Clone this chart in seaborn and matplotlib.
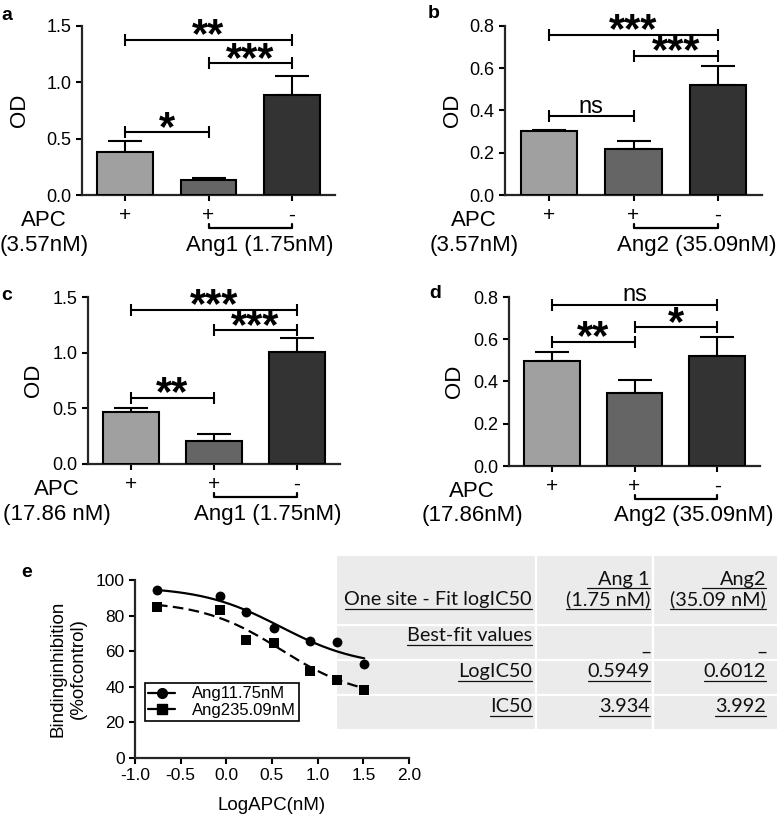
from __future__ import annotations

import matplotlib

matplotlib.use("Agg")

import matplotlib.pyplot as plt
import numpy as np
import pandas as pd
import seaborn as sns
from matplotlib.lines import Line2D
from matplotlib.patches import Rectangle
from matplotlib.transforms import blended_transform_factory


W, H = 777, 821

GROUPS = ["APC", "APC + Ang", "Ang"]
SIGNS = ["+", "+", "-"]
BAR_COLORS = ["#A0A0A0", "#656565", "#333333"]

A_MEAN = [0.38, 0.13, 0.89]
A_ERR = [0.10, 0.025, 0.17]
A_SIG = [(0, 2, 1.38, "**"), (1, 2, 1.17, "***"), (0, 1, 0.556, "*")]

B_MEAN = [0.303, 0.217, 0.52]
B_ERR = [0.005, 0.04, 0.09]
B_SIG = [(0, 2, 0.758, "***"), (1, 2, 0.659, "***"), (0, 1, 0.374, "ns")]

C_MEAN = [0.47, 0.207, 1.01]
C_ERR = [0.035, 0.06, 0.125]
C_SIG = [(0, 2, 1.387, "***"), (1, 2, 1.20, "***"), (0, 1, 0.597, "**")]

D_MEAN = [0.499, 0.344, 0.52]
D_ERR = [0.043, 0.062, 0.093]
D_SIG = [(0, 2, 0.763, "ns"), (1, 2, 0.658, "*"), (0, 1, 0.589, "**")]

LOG_APC = [-0.76, -0.07, 0.22, 0.52, 0.92, 1.21, 1.51]
ANG1_INHIB = [94.4, 91.2, 82.2, 73.2, 66.0, 65.1, 52.9]
ANG2_INHIB = [84.7, 83.2, 66.3, 64.5, 49.1, 43.9, 38.3]
SERIES = ["Ang11.75nM", "Ang235.09nM"]

# one site fit parameters (logIC50 from the table, plateaus)
FIT_TOP = [96.3, 88.3]
FIT_BOTTOM = [51.1, 33.2]
LOG_IC50 = [0.5949, 0.6012]
IC50 = [3.934, 3.992]
TABLE_ROWS = ["One site - Fit logIC50", "Best-fit values", "LogIC50", "IC50"]
TABLE_COLS = [("Ang 1", "(1.75 nM)"), ("Ang2", "(35.09 nM)")]

FONT = ["Liberation Sans", "DejaVu Sans"]
TABLE_FONT = ["Lato", "DejaVu Sans"]


def fx(px: float) -> float:
    return px / W


def fy(py: float) -> float:
    return 1 - py / H


def add_axes_px(fig, left, top, right, bottom):
    return fig.add_axes([fx(left), fy(bottom), (right - left) / W, (bottom - top) / H])


def style_axis(ax) -> None:
    sns.despine(ax=ax)
    for side in ["left", "bottom"]:
        ax.spines[side].set_linewidth(1.6)
    ax.tick_params(direction="out", length=4, width=1.5, colors="black")


def plot_bar_panel(fig, box, letter, letter_xy, means, errs, sigs, ymax, ystep,
                   labelpad, apc_x, apc_text, ang_x, ang_text):
    left, top, right, bottom = box
    ax = add_axes_px(fig, *box)
    df = pd.DataFrame({"group": GROUPS, "od": means})
    sns.barplot(data=df, x="group", y="od", hue="group", palette=BAR_COLORS, legend=False,
                errorbar=None, width=0.67, edgecolor="black", linewidth=1.5, ax=ax, zorder=3)
    ax.errorbar(range(3), means, yerr=[np.zeros(3), errs], fmt="none", ecolor="black",
                elinewidth=1.5, capsize=12, capthick=1.5, zorder=2)
    ax.set_xlim(-0.52, 2.52)
    ax.set_ylim(0, ymax)
    yt = np.arange(0, ymax + 1e-9, ystep)
    ax.set_yticks(yt)
    ax.set_yticklabels([f"{v:.1f}" for v in yt], fontsize=13)
    ax.set_xticks(range(3))
    ax.set_xticklabels(SIGNS, fontsize=15)
    ax.set_xlabel("")
    ax.set_ylabel("OD", fontsize=16, labelpad=labelpad)
    style_axis(ax)
    ax.tick_params(axis="x", pad=4)

    for i, j, h, mark in sigs:
        ax.plot([i, j], [h, h], color="black", lw=1.5, marker="|", markersize=9, mew=1.5,
                clip_on=False, zorder=4)
        if mark == "ns":
            ax.annotate(mark, ((i + j) / 2, h), xytext=(0, 2.5), textcoords="offset points",
                        ha="center", va="baseline", fontsize=17)
        else:
            ax.annotate(mark, ((i + j) / 2, h), xytext=(0, -5.5), textcoords="offset points",
                        ha="center", va="baseline", fontsize=30, fontweight="semibold")

    # bracket + labels under the x axis
    trans = blended_transform_factory(ax.transData, fig.transFigure)
    yb = bottom + 33
    ax.plot([1, 1, 2, 2], [fy(yb - 4), fy(yb), fy(yb), fy(yb - 4)], transform=trans,
            color="black", lw=1.6, clip_on=False)
    fig.text(fx(apc_x), fy(bottom + 25), "APC", ha="center", va="center", fontsize=16)
    fig.text(fx(apc_x), fy(bottom + 50), apc_text, ha="center", va="center", fontsize=16)
    fig.text(fx(ang_x), fy(bottom + 50), ang_text, ha="center", va="center", fontsize=16)
    fig.text(fx(letter_xy[0]), fy(letter_xy[1]), letter, ha="left", va="center",
             fontsize=14, fontweight="bold")
    return ax


def fit_curve(x, top, bottom, log_ic50):
    return bottom + (top - bottom) / (1 + 10 ** (x - log_ic50))


def plot_binding_panel(fig):
    ax = add_axes_px(fig, 135, 580, 409, 758)
    ax.set_facecolor("none")
    fit_x = np.linspace(LOG_APC[0], LOG_APC[-1], 200)
    styles = ["-", (0, (4.8, 2.4))]
    markers = ["o", "s"]
    for k, values in enumerate([ANG1_INHIB, ANG2_INHIB]):
        fit_y = fit_curve(fit_x, FIT_TOP[k], FIT_BOTTOM[k], LOG_IC50[k])
        ax.plot(fit_x, fit_y, color="black", lw=1.6, linestyle=styles[k], zorder=3)
        sns.scatterplot(x=LOG_APC, y=values, marker=markers[k], s=50, color="black",
                        edgecolor="black", linewidth=0, ax=ax, zorder=4, legend=False)
    ax.set_xlim(-1.0, 2.0)
    ax.set_ylim(0, 100)
    xt = np.arange(-1.0, 2.01, 0.5)
    ax.set_xticks(xt)
    ax.set_xticklabels([f"{v:.1f}" for v in xt], fontsize=12.5)
    ax.set_yticks(range(0, 101, 20))
    ax.set_yticklabels([str(v) for v in range(0, 101, 20)], fontsize=12.5)
    ax.set_xlabel("LogAPC(nM)", fontsize=13.5, labelpad=10)
    ax.set_ylabel("Bindinginhibition\n(%ofcontrol)", fontsize=13.5, labelpad=6, linespacing=1.25)
    style_axis(ax)

    handles = [
        Line2D([], [], color="black", lw=1.6, marker="o", markersize=7, label=SERIES[0]),
        Line2D([], [], color="black", lw=1.6, marker="s", markersize=7, label=SERIES[1]),
    ]
    leg = ax.legend(handles=handles, loc="upper left", bbox_to_anchor=(fx(145), fy(683)),
                    bbox_transform=fig.transFigure, frameon=True, fancybox=False,
                    edgecolor="black", framealpha=1, borderaxespad=0, fontsize=12,
                    handlelength=1.6, borderpad=0.2, labelspacing=0.1, handletextpad=1.0)
    leg.get_frame().set_linewidth(1.2)
    fig.text(fx(21), fy(572), "e", ha="left", va="center", fontsize=14, fontweight="bold")
    return ax


def plot_table(fig):
    fig.add_artist(Rectangle((fx(337), fy(729)), (W - 337) / W, (729 - 556) / H,
                             transform=fig.transFigure, facecolor="#EBEBEB",
                             edgecolor="none", zorder=-1))
    for xv in [536, 653]:
        fig.add_artist(Line2D([fx(xv), fx(xv)], [fy(556), fy(729)], transform=fig.transFigure,
                              color="white", lw=1.6, zorder=-0.5))
    for yv in [625, 660, 695]:
        fig.add_artist(Line2D([fx(337), fx(W)], [fy(yv), fy(yv)], transform=fig.transFigure,
                              color="white", lw=1.6, zorder=-0.5))

    cells = []
    baselines = [605, 641, 677, 712]
    for label, base in zip(TABLE_ROWS, baselines):
        cells.append((label, 532, base, 0))
    for (name, conc), right, ext in zip(TABLE_COLS, [650, 766], [12, 18]):
        cells.append((name, right, 585, ext))
        cells.append((conc, right, 605, 0))
        cells.append(("_", right, 650, 0))
    for k, right in enumerate([650, 766]):
        cells.append((f"{LOG_IC50[k]:.4f}", right, 677, 0))
        cells.append((f"{IC50[k]:.3f}", right, 712, 0))

    texts = []
    for s, right, base, ext in cells:
        t = fig.text(fx(right), fy(base), s, ha="right", va="baseline", fontsize=14.3,
                     family=TABLE_FONT, color="#111111")
        texts.append((t, base, ext))

    fig.canvas.draw()
    renderer = fig.canvas.get_renderer()
    for t, base, ext in texts:
        if t.get_text() == "_":
            continue
        bb = t.get_window_extent(renderer)
        fig.add_artist(Line2D([fx(bb.x0 - ext), fx(bb.x1)], [fy(base + 3.5), fy(base + 3.5)],
                              transform=fig.transFigure, color="#111111", lw=0.9))


def main() -> None:
    sns.set_style("ticks")
    plt.rcParams["font.family"] = FONT
    plt.rcParams["axes.unicode_minus"] = False
    plt.rcParams["text.color"] = "black"
    plt.rcParams["axes.labelcolor"] = "black"

    fig = plt.figure(figsize=(W / 100, H / 100), dpi=100)

    plot_bar_panel(fig, (82, 26, 335, 195), "a", (1, 15), A_MEAN, A_ERR, A_SIG, 1.5, 0.5,
                   12, 44, "(3.57nM)", 260, "Ang1 (1.75nM)")
    plot_bar_panel(fig, (505, 26, 762, 195), "b", (428, 14), B_MEAN, B_ERR, B_SIG, 0.8, 0.2,
                   5, 474, "(3.57nM)", 697, "Ang2 (35.09nM)")
    plot_bar_panel(fig, (88, 297, 340, 464), "c", (1, 295), C_MEAN, C_ERR, C_SIG, 1.5, 0.5,
                   6, 57, "(17.86 nM)", 268, "Ang1 (1.75nM)")
    plot_bar_panel(fig, (509, 297, 760, 466), "d", (429, 293), D_MEAN, D_ERR, D_SIG, 0.8, 0.2,
                   6, 472, "(17.86nM)", 694, "Ang2 (35.09nM)")
    plot_binding_panel(fig)
    plot_table(fig)

    fig.savefig("out.png", dpi=100)
    plt.close(fig)


if __name__ == "__main__":
    main()
